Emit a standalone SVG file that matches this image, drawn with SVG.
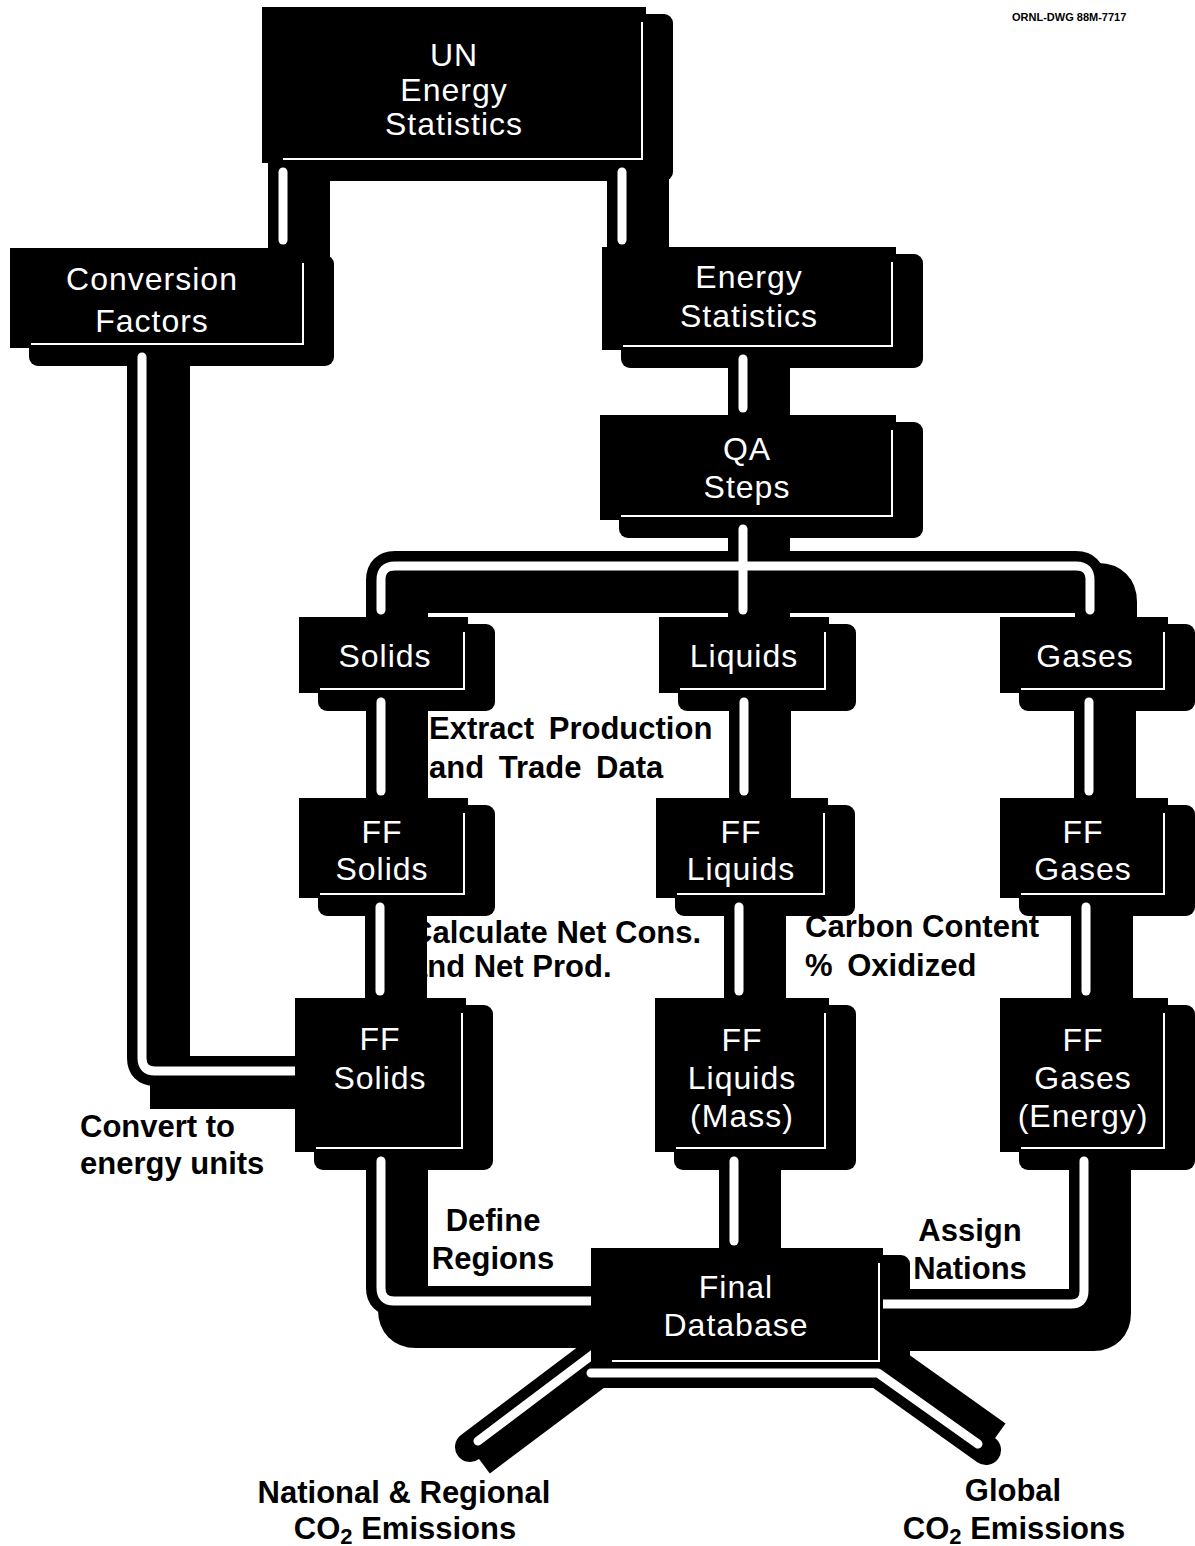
<svg xmlns="http://www.w3.org/2000/svg" width="1195" height="1546" viewBox="0 0 1195 1546">
<style>
.box{fill:#000}
.bsh{fill:#000}
.inner{fill:none;stroke:#fff;stroke-width:2}
.sh{fill:none;stroke:#000;stroke-width:50;stroke-linecap:square;stroke-linejoin:round}
.shx{fill:none;stroke:#000;stroke-linecap:butt}
.tube{fill:none;stroke:#000;stroke-width:30;stroke-linecap:butt;stroke-linejoin:round}
.tuber{fill:none;stroke:#000;stroke-width:30;stroke-linecap:round;stroke-linejoin:round}
.core{fill:none;stroke:#fff;stroke-width:9;stroke-linecap:round;stroke-linejoin:round}
.nt{font-family:"Liberation Sans",Arial,Helvetica,sans-serif;font-size:32px;fill:#fff;text-anchor:middle;letter-spacing:1px}
.lb{font-family:"Liberation Sans",Arial,Helvetica,sans-serif;font-size:31px;font-weight:bold;fill:#000}
.mid{text-anchor:middle}
.code{font-family:"Liberation Sans",Arial,Helvetica,sans-serif;font-size:11px;font-weight:bold;fill:#000}
</style>
<defs>
<path id="p-un-cf" d="M 283 163 V 248"/>
<path id="p-un-es" d="M 622 163 V 247"/>
<path id="p-es-qa" d="M 743 350 V 415"/>
<path id="p-qa-drop" d="M 743 520 V 566"/>
<path id="p-dist" d="M 381 617 V 580 Q 381 566 395 566 H 1076 Q 1090 566 1090 580 V 617"/>
<path id="p-dist-liq" d="M 743 566 V 617"/>
<path id="p-sol-1" d="M 381 693 V 798"/>
<path id="p-sol-2" d="M 380 898 V 998"/>
<path id="p-liq-1" d="M 744 693 V 798"/>
<path id="p-liq-2" d="M 739 898 V 998"/>
<path id="p-gas-1" d="M 1089 693 V 798"/>
<path id="p-gas-2" d="M 1086 898 V 998"/>
<path id="p-sol-fin" d="M 381 1152 V 1288 Q 381 1301 394 1301 H 596"/>
<path id="p-liq-fin" d="M 734 1152 V 1248"/>
<path id="p-gas-fin" d="M 1084 1152 V 1291 Q 1084 1304 1071 1304 H 878"/>
</defs>
<rect width="1195" height="1546" fill="#fff"/>

<g id="node-shadows">
<rect class="bsh" x="281" y="14" width="392" height="167" rx="9"/>
<rect class="bsh" x="29" y="255" width="305" height="111" rx="9"/>
<rect class="bsh" x="621" y="254" width="302" height="114" rx="9"/>
<rect class="bsh" x="619" y="422" width="304" height="116" rx="9"/>
<rect class="bsh" x="318" y="624" width="177" height="87" rx="9"/>
<rect class="bsh" x="678" y="624" width="178" height="87" rx="9"/>
<rect class="bsh" x="1019" y="624" width="176" height="87" rx="9"/>
<rect class="bsh" x="318" y="805" width="177" height="111" rx="9"/>
<rect class="bsh" x="675" y="805" width="180" height="111" rx="9"/>
<rect class="bsh" x="1019" y="805" width="176" height="111" rx="9"/>
<rect class="bsh" x="314" y="1005" width="179" height="165" rx="9"/>
<rect class="bsh" x="674" y="1005" width="182" height="165" rx="9"/>
<rect class="bsh" x="1019" y="1005" width="176" height="165" rx="9"/>
<rect class="bsh" x="610" y="1255" width="300" height="128" rx="9"/>
</g>

<g id="connectors">
<g id="conn-shadows" transform="translate(22,22)">
<use href="#p-un-cf" class="sh"/>
<use href="#p-un-es" class="sh"/>
<use href="#p-es-qa" class="sh"/>
<use href="#p-qa-drop" class="sh"/>
<use href="#p-dist" class="sh"/>
<use href="#p-dist-liq" class="sh"/>
<use href="#p-sol-1" class="sh"/>
<use href="#p-sol-2" class="sh"/>
<use href="#p-liq-1" class="sh"/>
<use href="#p-liq-2" class="sh"/>
<use href="#p-gas-1" class="sh"/>
<use href="#p-gas-2" class="sh"/>
<use href="#p-sol-fin" class="sh"/>
<use href="#p-liq-fin" class="sh"/>
<use href="#p-gas-fin" class="sh"/>
</g>
<g id="conn-shadows-extra">
<path class="shx" stroke-width="50" d="M 165 348 V 1060"/>
<path class="shx" stroke-width="30" d="M 150 1094 H 300"/>
<path class="shx" stroke-width="26" stroke-linecap="round" d="M 482 1463 L 598 1376"/>
<path class="shx" stroke-width="26" stroke-linecap="round" d="M 890 1357 L 998 1434"/>
</g>
<g id="conn-tubes">
<use href="#p-un-cf" class="tube"/>
<use href="#p-un-es" class="tube"/>
<use href="#p-es-qa" class="tube"/>
<use href="#p-qa-drop" class="tube"/>
<use href="#p-dist" class="tube"/>
<use href="#p-dist-liq" class="tube"/>
<use href="#p-sol-1" class="tube"/>
<use href="#p-sol-2" class="tube"/>
<use href="#p-liq-1" class="tube"/>
<use href="#p-liq-2" class="tube"/>
<use href="#p-gas-1" class="tube"/>
<use href="#p-gas-2" class="tube"/>
<use href="#p-sol-fin" class="tube"/>
<use href="#p-liq-fin" class="tube"/>
<use href="#p-gas-fin" class="tube"/>
<path class="tube" d="M 142 348 V 1058 Q 142 1071 155 1071 H 300"/>
<path class="tuber" d="M 470 1447 L 596 1352 M 591 1373 H 878 L 986 1450"/>
</g>
<g id="conn-cores">
<path class="core" d="M 283 172 V 240"/>
<path class="core" d="M 622 172 V 240"/>
<path class="core" d="M 142 357 V 1058 Q 142 1071 155 1071 H 300"/>
<path class="core" d="M 743 359 V 408"/>
<path class="core" d="M 743 529 V 566"/>
<path class="core" d="M 381 610 V 580 Q 381 566 395 566 H 1076 Q 1090 566 1090 580 V 610"/>
<path class="core" d="M 743 566 V 610"/>
<path class="core" d="M 381 702 V 791"/>
<path class="core" d="M 380 907 V 991"/>
<path class="core" d="M 744 702 V 791"/>
<path class="core" d="M 739 907 V 991"/>
<path class="core" d="M 1089 702 V 791"/>
<path class="core" d="M 1086 907 V 991"/>
<path class="core" d="M 381 1161 V 1288 Q 381 1301 394 1301 H 596"/>
<path class="core" d="M 734 1161 V 1241"/>
<path class="core" d="M 1084 1161 V 1291 Q 1084 1304 1071 1304 H 878"/>
<path class="core" d="M 478 1441 L 596 1352 M 591 1373 H 878 L 978 1444"/>
</g>
</g>

<g id="node-un">
<rect class="box" x="262" y="7" width="384" height="156"/>
<polyline class="inner" points="283,159 642,159 642,22"/>
<text class="nt" x="454" y="66">UN</text>
<text class="nt" x="454" y="101">Energy</text>
<text class="nt" x="454" y="135">Statistics</text>
</g>
<g id="node-conversion-factors">
<rect class="box" x="10" y="248" width="297" height="100"/>
<polyline class="inner" points="31,344 303,344 303,263"/>
<text class="nt" x="152" y="290">Conversion</text>
<text class="nt" x="152" y="332">Factors</text>
</g>
<g id="node-energy-statistics">
<rect class="box" x="602" y="247" width="294" height="103"/>
<polyline class="inner" points="623,346 892,346 892,262"/>
<text class="nt" x="749" y="288">Energy</text>
<text class="nt" x="749" y="327">Statistics</text>
</g>
<g id="node-qa-steps">
<rect class="box" x="600" y="415" width="296" height="105"/>
<polyline class="inner" points="621,516 892,516 892,430"/>
<text class="nt" x="747" y="460">QA</text>
<text class="nt" x="747" y="498">Steps</text>
</g>
<g id="node-solids">
<rect class="box" x="299" y="617" width="169" height="76"/>
<polyline class="inner" points="320,689 464,689 464,632"/>
<text class="nt" x="385" y="667">Solids</text>
</g>
<g id="node-liquids">
<rect class="box" x="659" y="617" width="170" height="76"/>
<polyline class="inner" points="680,689 825,689 825,632"/>
<text class="nt" x="744" y="667">Liquids</text>
</g>
<g id="node-gases">
<rect class="box" x="1000" y="617" width="168" height="76"/>
<polyline class="inner" points="1021,689 1164,689 1164,632"/>
<text class="nt" x="1085" y="667">Gases</text>
</g>
<g id="node-ff-solids">
<rect class="box" x="299" y="798" width="169" height="100"/>
<polyline class="inner" points="320,894 464,894 464,813"/>
<text class="nt" x="382" y="843">FF</text>
<text class="nt" x="382" y="880">Solids</text>
</g>
<g id="node-ff-liquids">
<rect class="box" x="656" y="798" width="172" height="100"/>
<polyline class="inner" points="677,894 824,894 824,813"/>
<text class="nt" x="741" y="843">FF</text>
<text class="nt" x="741" y="880">Liquids</text>
</g>
<g id="node-ff-gases">
<rect class="box" x="1000" y="798" width="168" height="100"/>
<polyline class="inner" points="1021,894 1164,894 1164,813"/>
<text class="nt" x="1083" y="843">FF</text>
<text class="nt" x="1083" y="880">Gases</text>
</g>
<g id="node-ff-solids-energy">
<rect class="box" x="295" y="998" width="171" height="154"/>
<polyline class="inner" points="316,1148 462,1148 462,1013"/>
<text class="nt" x="380" y="1050">FF</text>
<text class="nt" x="380" y="1089">Solids</text>
</g>
<g id="node-ff-liquids-mass">
<rect class="box" x="655" y="998" width="174" height="154"/>
<polyline class="inner" points="676,1148 825,1148 825,1013"/>
<text class="nt" x="742" y="1051">FF</text>
<text class="nt" x="742" y="1089">Liquids</text>
<text class="nt" x="742" y="1127">(Mass)</text>
</g>
<g id="node-ff-gases-energy">
<rect class="box" x="1000" y="998" width="168" height="154"/>
<polyline class="inner" points="1021,1148 1164,1148 1164,1013"/>
<text class="nt" x="1083" y="1051">FF</text>
<text class="nt" x="1083" y="1089">Gases</text>
<text class="nt" x="1083" y="1127">(Energy)</text>
</g>
<g id="node-final-database">
<rect class="box" x="591" y="1248" width="292" height="117"/>
<polyline class="inner" points="612,1361 879,1361 879,1263"/>
<text class="nt" x="736" y="1298">Final</text>
<text class="nt" x="736" y="1336">Database</text>
</g>

<g id="labels">
<text class="code" x="1012" y="21">ORNL-DWG 88M-7717</text>
<text class="lb" x="429" y="739" word-spacing="6">Extract Production</text>
<text class="lb" x="429" y="778" word-spacing="6">and Trade Data</text>
<text class="lb" x="410" y="943">Calculate Net Cons.</text>
<text class="lb" x="410" y="977">and Net Prod.</text>
<text class="lb" x="805" y="937">Carbon Content</text>
<text class="lb" x="805" y="976" word-spacing="6">% Oxidized</text>
<text class="lb" x="80" y="1137">Convert to</text>
<text class="lb" x="80" y="1174">energy units</text>
<text class="lb mid" x="493" y="1231">Define</text>
<text class="lb mid" x="493" y="1269">Regions</text>
<text class="lb mid" x="970" y="1241">Assign</text>
<text class="lb mid" x="970" y="1279">Nations</text>
<text class="lb mid" x="404" y="1503">National &amp; Regional</text>
<text class="lb mid" x="405" y="1539">CO<tspan font-size="22" dy="5">2</tspan><tspan dy="-5"> Emissions</tspan></text>
<text class="lb mid" x="1013" y="1501">Global</text>
<text class="lb mid" x="1014" y="1539">CO<tspan font-size="22" dy="5">2</tspan><tspan dy="-5"> Emissions</tspan></text>
</g>
</svg>
